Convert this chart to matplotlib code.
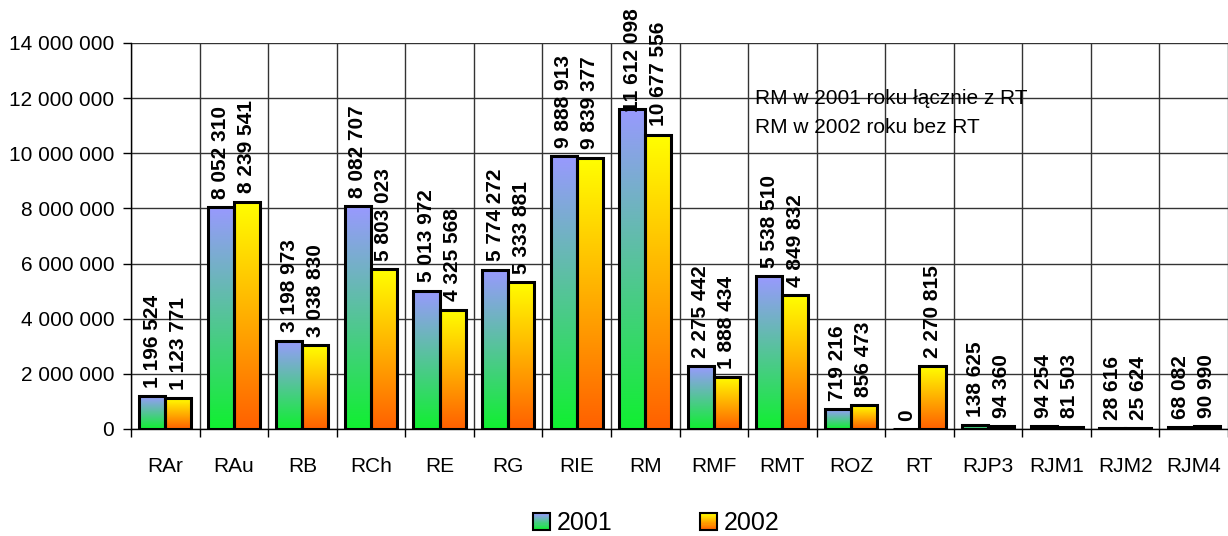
import matplotlib
matplotlib.use("Agg")
import matplotlib.pyplot as plt
import numpy as np
from matplotlib.colors import LinearSegmentedColormap
from matplotlib.patches import Rectangle
from matplotlib.legend_handler import HandlerBase
from matplotlib.ticker import FuncFormatter, FixedLocator

plt.rcParams['font.family'] = ['Liberation Sans', 'DejaVu Sans']

categories = ["RAr", "RAu", "RB", "RCh", "RE", "RG", "RIE", "RM", "RMF", "RMT",
              "ROZ", "RT", "RJP3", "RJM1", "RJM2", "RJM4"]
values_2001 = [1196524, 8052310, 3198973, 8082707, 5013972, 5774272, 9888913, 11612098,
               2275442, 5538510, 719216, 0, 138625, 94254, 28616, 68082]
values_2002 = [1123771, 8239541, 3038830, 5803023, 4325568, 5333881, 9839377, 10677556,
               1888434, 4849832, 856473, 2270815, 94360, 81503, 25624, 90990]
series_names = ["2001", "2002"]
note_lines = ["RM w 2001 roku łącznie z RT", "RM w 2002 roku bez RT"]

# gradient colours, bottom -> top
cmap_2001 = LinearSegmentedColormap.from_list("g2001", ["#10f030", "#9999ff"])
cmap_2002 = LinearSegmentedColormap.from_list("g2002", ["#ff6000", "#ffff00"])


def fmt(v):
    return f"{int(v):,}".replace(",", " ")


class GradHandler(HandlerBase):
    def __init__(self, cmap):
        super().__init__()
        self.cmap = cmap

    def create_artists(self, legend, orig_handle, xdescent, ydescent,
                       width, height, fontsize, trans):
        side = min(width, height)
        x0, y0 = -xdescent, -ydescent + (height - side) / 2
        arts = []
        n = 16
        for k in range(n):
            arts.append(Rectangle((x0, y0 + side * k / n), side, side / n + 0.01,
                                  facecolor=self.cmap(k / (n - 1)), edgecolor="none",
                                  transform=trans))
        arts.append(Rectangle((x0, y0), side, side, facecolor="none",
                              edgecolor="black", lw=1.5, transform=trans))
        return arts


fig = plt.figure(figsize=(12.28, 5.36), dpi=100)
ax = fig.add_axes([131 / 1228, 107 / 536, 1 - 131 / 1228, 386 / 536])

x = np.arange(len(categories))
w = 0.38
grad = np.linspace(0, 1, 256).reshape(-1, 1)

labels = []
for off, vals, cmap in [(-w / 2, values_2001, cmap_2001), (w / 2, values_2002, cmap_2002)]:
    bc = ax.bar(x + off, vals, width=w, facecolor="none", edgecolor="black",
                linewidth=2.2, zorder=3)
    for rect, v in zip(bc, vals):
        if v > 0:
            im = ax.imshow(grad, cmap=cmap, origin="lower", aspect="auto",
                           extent=(rect.get_x(), rect.get_x() + rect.get_width(), 0, v),
                           zorder=2)
            im.set_clip_path(rect)
        t = ax.annotate(fmt(v), (rect.get_x() + rect.get_width() / 2, v),
                        xytext=(0, 6), textcoords="offset points", rotation=90,
                        ha="center", va="bottom", fontsize=15, fontweight="bold",
                        zorder=4)
        labels.append(t)

ax.set_xlim(-0.5, len(categories) - 0.5)
ax.set_ylim(0, 14000000)
ax.set_yticks(np.arange(0, 14000001, 2000000))
ax.yaxis.set_major_formatter(FuncFormatter(lambda v, p: fmt(v)))
ax.tick_params(axis="y", length=6, width=1, pad=6, labelsize=15)

ax.xaxis.set_major_locator(FixedLocator(np.arange(-0.5, len(categories), 1)))
ax.xaxis.set_minor_locator(FixedLocator(x))
ax.set_xticklabels([], minor=False)
ax.set_xticklabels(categories, minor=True)
ax.tick_params(axis="x", which="major", length=6, width=1)
ax.tick_params(axis="x", which="minor", length=0, pad=20, labelsize=15)

ax.grid(True, which="major", color="#333333", linewidth=1)
ax.set_axisbelow(True)
for s in ["top", "right"]:
    ax.spines[s].set_visible(False)
for s in ["left", "bottom"]:
    ax.spines[s].set_linewidth(1)

tr = ax.get_yaxis_transform()
ax.text(0.569, 12000000, note_lines[0], transform=tr, fontsize=15, va="center", ha="left")
ax.text(0.569, 10950000, note_lines[1], transform=tr, fontsize=15, va="center", ha="left")

handles = [Rectangle((0, 0), 1, 1), Rectangle((0, 0), 1, 1)]
leg = fig.legend(handles, series_names, loc="center", ncol=2,
                 bbox_to_anchor=(656 / 1228, 13 / 536), frameon=False, fontsize=18,
                 handler_map={handles[0]: GradHandler(cmap_2001),
                              handles[1]: GradHandler(cmap_2002)},
                 handlelength=0.7, handleheight=0.7, handletextpad=0.25,
                 columnspacing=3.5)

# labels that would run off the top get pushed down, like the original does
fig.canvas.draw()
renderer = fig.canvas.get_renderer()
top_px = fig.bbox.height - 8
for t in labels:
    bb = t.get_window_extent(renderer)
    if bb.y1 > top_px:
        dy = (bb.y1 - top_px) * 72 / fig.dpi
        t.set_position((0, 6 - dy))

fig.savefig("out.png", dpi=100)
